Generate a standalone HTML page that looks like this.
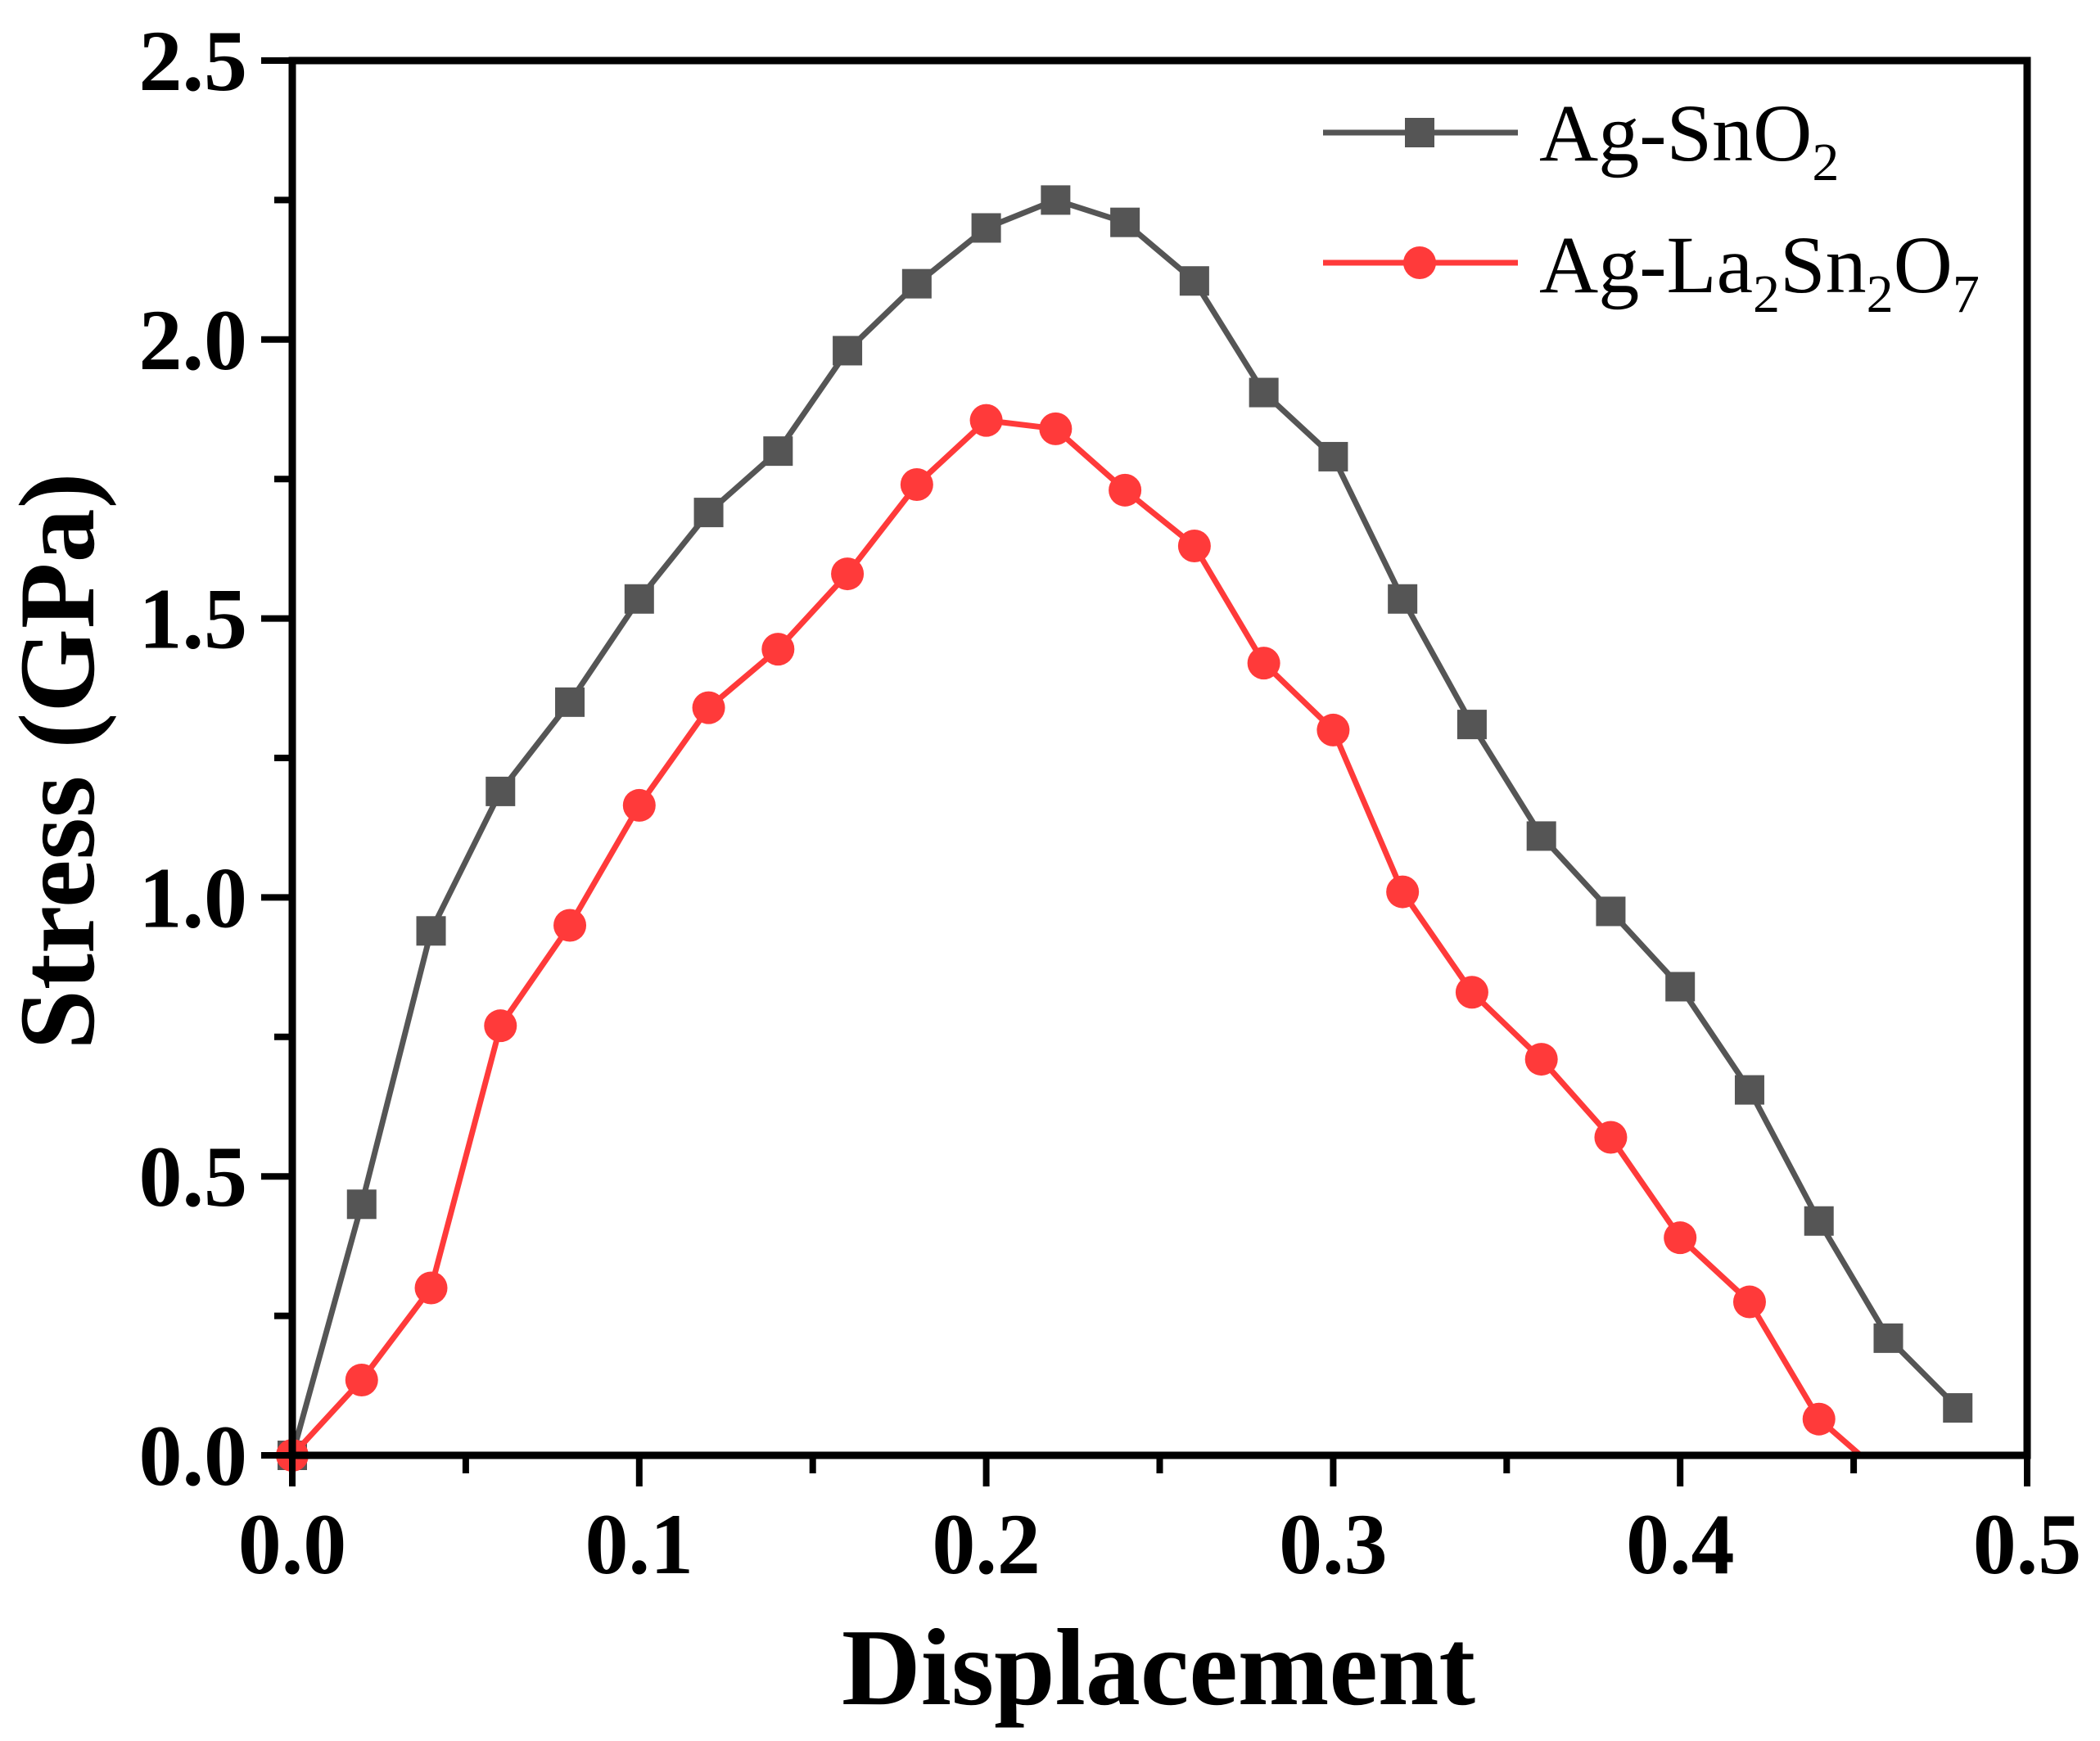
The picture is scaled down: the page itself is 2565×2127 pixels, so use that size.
<!DOCTYPE html>
<html><head><meta charset="utf-8"><style>
html,body{margin:0;padding:0;background:#fff;}
body{position:relative;}
svg{display:block;}
</style></head><body>
<svg id="chart" width="2565" height="2127" viewBox="0 0 2565 2127" xmlns="http://www.w3.org/2000/svg">
<g id="plot"></g>
</svg>
<script>
const xValues = [0,0.02,0.04,0.06,0.08,0.10,0.12,0.14,0.16,0.18,0.20,0.22,0.24,0.26,0.28,0.30,0.32,0.34,0.36,0.38,0.40,0.42,0.44,0.46,0.48];
const agSnO2 = [0,0.45,0.94,1.19,1.35,1.535,1.69,1.80,1.98,2.10,2.20,2.25,2.21,2.105,1.905,1.79,1.535,1.31,1.11,0.975,0.84,0.655,0.42,0.21,0.085];
const agLaX = [0,0.02,0.04,0.06,0.08,0.10,0.12,0.14,0.16,0.18,0.20,0.22,0.24,0.26,0.28,0.30,0.32,0.34,0.36,0.38,0.40,0.42,0.44,0.452];
const agLa = [0,0.135,0.30,0.77,0.95,1.165,1.34,1.445,1.58,1.74,1.855,1.84,1.73,1.63,1.42,1.30,1.01,0.83,0.71,0.57,0.39,0.275,0.065,0];
const xTicks = ["0.0","0.1","0.2","0.3","0.4","0.5"];
const yTicks = ["0.0","0.5","1.0","1.5","2.0","2.5"];

const L=357,R=2476,T=74,B=1778;
const X=v=>L+(v/0.5)*(R-L);
const Y=v=>B-(v/2.5)*(B-T);
const NS="http://www.w3.org/2000/svg";
const g=document.getElementById('plot');
function mk(tag,attrs,parent){const e=document.createElementNS(NS,tag);for(const k in attrs)e.setAttribute(k,attrs[k]);(parent||g).appendChild(e);return e;}

function series(xs,ys,color,shape,name,markCount){
  const sg=mk('g',{});
  
  
  const line=mk('polyline',{points:xs.map((x,i)=>X(x)+','+Y(ys[i])).join(' '),fill:'none',stroke:color,'stroke-width':7,'stroke-linejoin':'round'},sg);
  
  
  for(let i=0;i<markCount;i++){
    let m;
    if(shape==='square') m=mk('rect',{x:X(xs[i])-18,y:Y(ys[i])-18,width:36,height:36,fill:color},sg);
    else m=mk('circle',{cx:X(xs[i]),cy:Y(ys[i]),r:20,fill:color},sg);
    
    
  }
}
series(xValues,agSnO2,'#555555','square','ag-sno2-series',xValues.length);
series(agLaX,agLa,'#ff3a3a','circle','ag-la2sn2o7-series',agLaX.length-1);

const fr=mk('rect',{x:L,y:T,width:R-L,height:B-T,fill:'none',stroke:'#000','stroke-width':9});



for(let i=0;i<=10;i++){
  const v=i*0.05, major=i%2===0;
  const t=mk('line',{x1:X(v),x2:X(v),y1:B,y2:B+(major?38:22),stroke:'#000','stroke-width':8});
  
  
}
xTicks.forEach((s,i)=>{
  const t=mk('text',{x:X(i*0.1),y:1922,'text-anchor':'middle','font-family':'Liberation Serif, serif','font-weight':'bold','font-size':106});
  t.textContent=s;
  
  
});
for(let i=0;i<=10;i++){
  const v=i*0.25, major=i%2===0;
  const t=mk('line',{x1:L,x2:L-(major?38:22),y1:Y(v),y2:Y(v),stroke:'#000','stroke-width':8});
  
  
}
yTicks.forEach((s,i)=>{
  const t=mk('text',{x:302,y:Y(i*0.5)+36,'text-anchor':'end','font-family':'Liberation Serif, serif','font-weight':'bold','font-size':106});
  t.textContent=s;
  
  
});
</script>
<svg style="position:absolute;left:0;top:0" width="2565" height="2127" xmlns="http://www.w3.org/2000/svg">
<text x="1415" y="2082" text-anchor="middle" font-family="Liberation Serif, serif" font-weight="bold" font-size="134">Displacement</text>
<text transform="translate(114,930) rotate(-90)" text-anchor="middle" font-family="Liberation Serif, serif" font-weight="bold" font-size="132">Stress (GPa)</text>
<g>
  <g>
    <line x1="1616" x2="1854" y1="162" y2="162" stroke="#555" stroke-width="7"/>
    <rect x="1716" y="144" width="36" height="36" fill="#555"/>
    <text x="1880" y="196" font-family="Liberation Serif, serif" font-size="100">Ag-SnO<tspan font-size="66" dy="24">2</tspan></text>
  </g>
  <g>
    <line x1="1616" x2="1854" y1="321" y2="321" stroke="#ff3a3a" stroke-width="7"/>
    <circle cx="1734" cy="321" r="20" fill="#ff3a3a"/>
    <text x="1880" y="357" font-family="Liberation Serif, serif" font-size="100">Ag-La<tspan font-size="66" dy="24">2</tspan><tspan dy="-24">Sn</tspan><tspan font-size="66" dy="24">2</tspan><tspan dy="-24">O</tspan><tspan font-size="66" dy="24">7</tspan></text>
  </g>
</g>
</svg>
</body></html>
